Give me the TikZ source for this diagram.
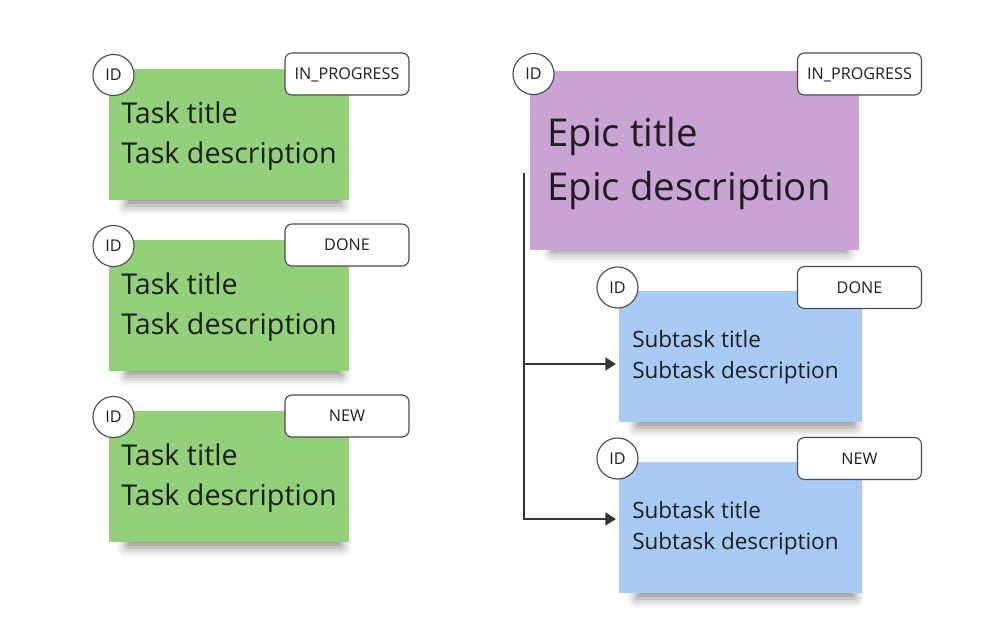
\documentclass[tikz,border=0pt]{standalone}
\usepackage{fontspec}
\setmainfont{Open Sans}
\usetikzlibrary{shapes,arrows.meta,shadows.blur}
\definecolor{taskgreen}{RGB}{146,208,121}
\definecolor{epicpurple}{RGB}{200,163,211}
\definecolor{subblue}{RGB}{167,203,244}
\definecolor{inkgray}{RGB}{30,30,30}
\definecolor{edgegray}{RGB}{75,75,75}
\tikzstyle{note} = [rectangle, inner sep=0pt,
    blur shadow={shadow xshift=4pt, shadow yshift=-9.5pt, shadow scale=0.9,
    shadow blur radius=7.5pt, shadow opacity=45}]
\tikzstyle{idtag} = [draw=edgegray, fill=white, circle, line width=0.8pt,
    minimum size=29.2pt, inner sep=0pt, text=inkgray,
    text height=8.2pt, text depth=0pt, font=\fontsize{11.5}{13}\selectfont]
\tikzstyle{status} = [draw=edgegray, fill=white, rectangle, rounded corners=5pt,
    line width=0.8pt, minimum width=88.2pt, minimum height=29.9pt,
    inner sep=0pt, text=inkgray, text height=8.2pt, text depth=0pt,
    font=\fontsize{11.5}{13}\selectfont]
\tikzstyle{notetext} = [anchor=west, align=left, inner sep=0pt, text=inkgray]
\tikzstyle{link} = [draw=inkgray!90, line width=1.7pt,
    -{Triangle[length=7.5pt,width=9pt]}]

\begin{document}
\begin{tikzpicture}[x=0.025cm, y=-0.025cm]
\useasboundingbox (0,0) rectangle (1000,640);

\coordinate (trunk) at (524,173);
\coordinate (s1in) at (616,364);
\coordinate (s2in) at (616,519);

\node[note, fill=taskgreen, minimum width=170.7pt, minimum height=93.2pt] (task1) at (229,134.5) {};
\node[note, fill=taskgreen, minimum width=170.7pt, minimum height=93.2pt] (task2) at (229,305.5) {};
\node[note, fill=taskgreen, minimum width=170.7pt, minimum height=93.2pt] (task3) at (229,476.5) {};
\node[note, fill=epicpurple, minimum width=234pt, minimum height=127.3pt] (epic) at (694.5,160.5) {};
\node[note, fill=subblue, minimum width=172.8pt, minimum height=93.2pt] (sub1) at (740.5,356.5) {};
\node[note, fill=subblue, minimum width=172.8pt, minimum height=93.2pt] (sub2) at (740.5,527.5) {};

\node[notetext, font=\fontsize{20.4}{28.5}\selectfont] (task1txt) at (121,136) {Task title\\Task description};
\node[notetext, font=\fontsize{20.4}{28.5}\selectfont] (task2txt) at (121,307) {Task title\\Task description};
\node[notetext, font=\fontsize{20.4}{28.5}\selectfont] (task3txt) at (121,478) {Task title\\Task description};
\node[notetext, font=\fontsize{27.3}{38.4}\selectfont] (epictxt) at (547,163.5) {Epic title\\Epic description};
\node[notetext, font=\fontsize{16}{22.05}\selectfont] (sub1txt) at (632,356.7) {Subtask title\\Subtask description};
\node[notetext, font=\fontsize{16}{22.05}\selectfont] (sub2txt) at (632,527.7) {Subtask title\\Subtask description};

\node[idtag] (task1id) at (113.5,75) {ID};
\node[idtag] (task2id) at (113.5,246) {ID};
\node[idtag] (task3id) at (113.5,417) {ID};
\node[idtag] (epicid) at (533.5,74) {ID};
\node[idtag] (sub1id) at (617.5,287.5) {ID};
\node[idtag] (sub2id) at (617.5,458.5) {ID};

\node[status] (task1st) at (347,74) {IN\_PROGRESS};
\node[status] (task2st) at (347,245) {DONE};
\node[status] (task3st) at (347,416) {NEW};
\node[status] (epicst) at (859.5,74) {IN\_PROGRESS};
\node[status] (sub1st) at (859.5,287.5) {DONE};
\node[status] (sub2st) at (859.5,458.5) {NEW};

\draw[link] (trunk) |- (s2in);
\draw[link] (trunk |- s1in) -- (s1in);
\end{tikzpicture}
\end{document}
